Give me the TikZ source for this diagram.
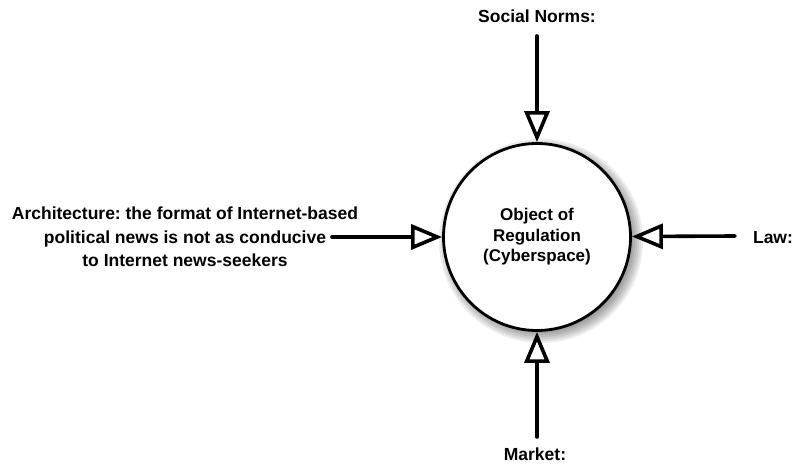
\documentclass[tikz,border=0pt]{standalone}
\usepackage{fontspec}
\setmainfont{Liberation Sans}
\usepackage{tikz}
\usetikzlibrary{arrows.meta,positioning,calc}
\frenchspacing
\tikzset{
  regobj/.style={circle, draw=black, line width=2.8pt, fill=white,
    minimum size=187pt, inner sep=0pt, align=center, font=\bfseries\fontsize{17}{20.5}\selectfont},
  force/.style={align=center, font=\bfseries\fontsize{17.5}{23.5}\selectfont, inner sep=0pt},
  push/.style={-{Triangle[open, length=31pt, width=25pt]}, line width=3.6pt, line cap=round, fill=white},
}

\begin{document}
\begin{tikzpicture}[x=1pt, y=1pt]
\useasboundingbox (0,0) rectangle (796,-465);

% soft shadow behind the circle
\foreach \r in {102,100,...,90}
  \fill[black, opacity=0.07] (541,-241) circle (\r);

\node[regobj] (obj) at (537,-237) {Object of\\Regulation\\(Cyberspace)};

\node[force] (norms) at (537,-16) {Social Norms:};
\node[force] (law) at (773,-238) {Law:};
\node[force] (market) at (535,-454) {Market:};
\node[force] (arch) at (185,-237) {Architecture: the format of Internet-based\\political news is not as conducive\\to Internet news-seekers};

\coordinate (normsend) at (537,-36);
\coordinate (lawend) at (735,-236);
\coordinate (marketend) at (537,-437);
\coordinate (archend) at (332,-237);

\draw[push] (normsend) -- (obj);
\draw[push] (lawend) -- (obj);
\draw[push] (marketend) -- (obj);
\draw[push] (archend) -- (obj);
\end{tikzpicture}
\end{document}
